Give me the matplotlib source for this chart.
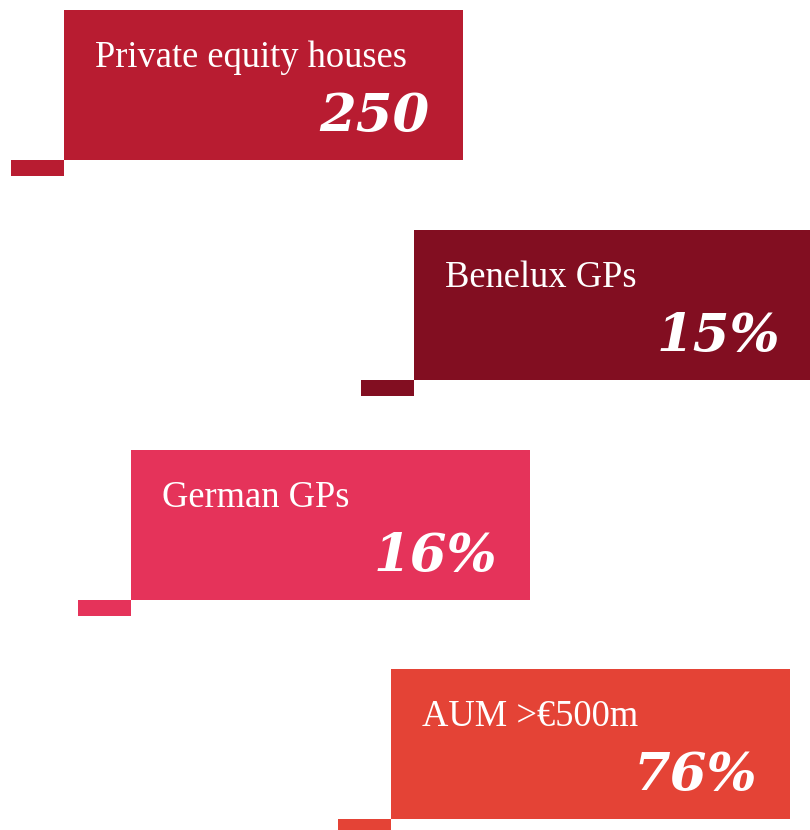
import matplotlib.pyplot as plt

# data
labels = ['Private equity houses', 'Benelux GPs', 'German GPs', 'AUM >€500m']
values = ['250', '15%', '16%', '76%']
colors = ['#B81C31', '#820E21', '#E5335A', '#E44336']

# layout (pixels, figure is 810x830)
box_left = [64, 414, 131, 391]
box_top = [10, 230, 450, 669]
box_w = 399
box_h = 150
tab_w = 53
tab_h = 16

fig = plt.figure(figsize=(8.1, 8.3), dpi=100)
ax = fig.add_axes([0, 0, 1, 1])
ax.set_xlim(0, 810)
ax.set_ylim(830, 0)
ax.axis('off')

# main boxes
ax.barh([t + box_h / 2 for t in box_top], [box_w] * 4, height=box_h,
        left=box_left, color=colors, linewidth=0)
# little tabs at bottom-left
ax.barh([t + box_h + tab_h / 2 for t in box_top], [tab_w] * 4, height=tab_h,
        left=[l - tab_w for l in box_left], color=colors, linewidth=0)

for i in range(len(labels)):
    ax.text(box_left[i] + 31, box_top[i] + 57, labels[i], color='white',
            family='Liberation Serif', fontsize=26.3, ha='left', va='baseline')
    ax.text(box_left[i] + box_w - 33, box_top[i] + 121, values[i], color='white',
            family='DejaVu Serif', fontsize=38, fontweight='bold',
            fontstyle='italic', ha='right', va='baseline')

fig.savefig('out.png', dpi=100)
